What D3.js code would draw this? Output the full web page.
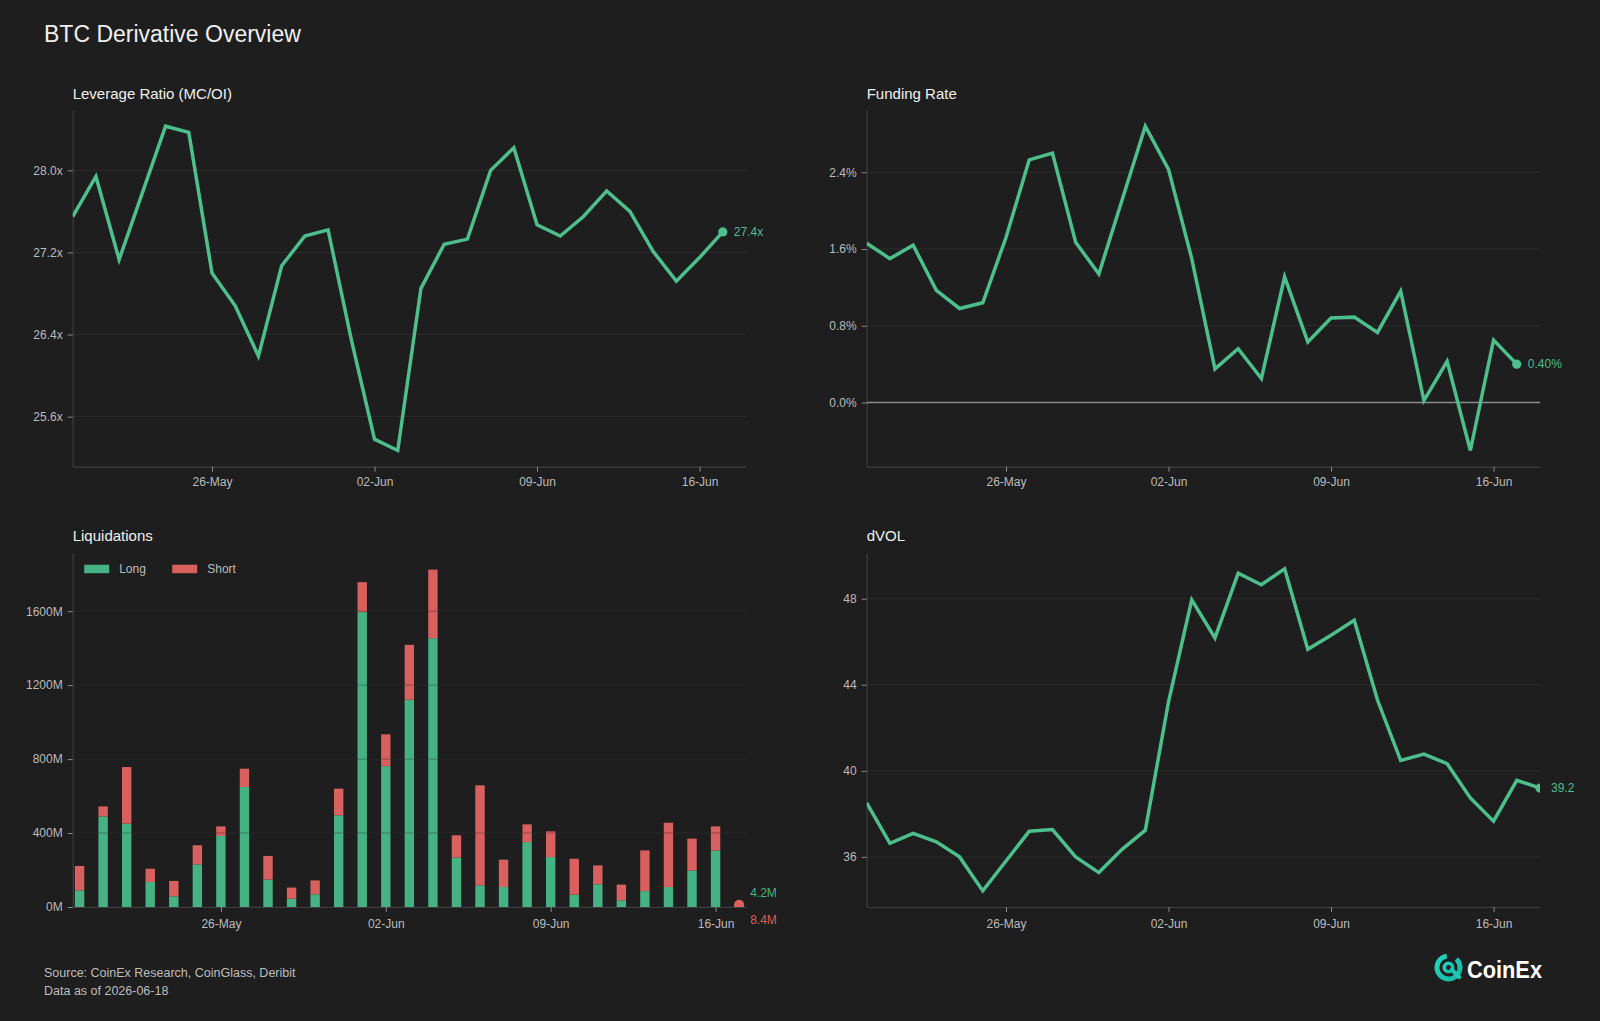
<!DOCTYPE html>
<html>
<head>
<meta charset="utf-8">
<script src="https://cdn.jsdelivr.net/npm/d3@7"></script>
<style>
  html, body { margin: 0; padding: 0; background: #1e1e1e; }
  svg { display: block; font-family: "Liberation Sans", Arial, sans-serif; }
</style>
</head>
<body>
<div id="chart"></div>
<script>
// Daily dates (dVOL has one more point than the rest)
const dates = ["2026-05-20","2026-05-21","2026-05-22","2026-05-23","2026-05-24","2026-05-25","2026-05-26",
  "2026-05-27","2026-05-28","2026-05-29","2026-05-30","2026-05-31","2026-06-01","2026-06-02","2026-06-03",
  "2026-06-04","2026-06-05","2026-06-06","2026-06-07","2026-06-08","2026-06-09","2026-06-10","2026-06-11",
  "2026-06-12","2026-06-13","2026-06-14","2026-06-15","2026-06-16","2026-06-17","2026-06-18"];

const dateTicks = ["2026-05-26","2026-06-02","2026-06-09","2026-06-16"];

// Leverage ratio (x)
const leverage = [27.55, 27.94, 27.13, 27.78, 28.43, 28.37, 27.00, 26.68, 26.19, 27.07, 27.36, 27.42, 26.35, 25.38,
  25.27, 26.85, 27.28, 27.33, 28.00, 28.22, 27.47, 27.36, 27.55, 27.80, 27.60, 27.21, 26.92, 27.15, 27.40];
const leverageTicks = [25.6, 26.4, 27.2, 28.0];

// Funding rate (%)
const funding = [1.66, 1.50, 1.64, 1.17, 0.98, 1.04, 1.72, 2.53, 2.60, 1.67, 1.34, 2.11, 2.88, 2.43,
  1.50, 0.35, 0.56, 0.25, 1.31, 0.63, 0.88, 0.89, 0.73, 1.16, 0.02, 0.43, -0.50, 0.65, 0.40];
const fundingTicks = [0, 0.8, 1.6, 2.4];

// Liquidations (M USD)
const longLiq = [90, 490, 451, 135, 58, 231, 384, 649, 148, 45, 69, 496, 1595, 762, 1121, 1454, 267, 117,
  108, 351, 270, 67, 123, 36, 86, 108, 198, 306, 4.2];
const shortLiq = [132, 54, 306, 72, 83, 103, 52, 99, 128, 60, 75, 144, 162, 172, 297, 371, 121, 541,
  148, 96, 139, 194, 102, 85, 220, 348, 172, 130, 8.4];
const liqTicks = [0, 400, 800, 1200, 1600];

// dVOL
const dvol = [38.51, 36.63, 37.09, 36.70, 36.00, 34.42, 35.81, 37.19, 37.27, 36.00, 35.27, 36.35, 37.24, 43.21,
  47.95, 46.18, 49.19, 48.65, 49.39, 45.65, 46.30, 47.00, 43.29, 40.48, 40.78, 40.33, 38.74, 37.66, 39.56, 39.20];
const dvolTicks = [36, 40, 44, 48];

// colours
const BG = "#1e1e1e";
const GREEN = "#4dbf8d";
const BAR_GREEN = "#46b283";
const RED = "#d8605e";
const GRID = "#2c2c2c";
const AXIS = "#3e3e3e";
const TICK_TEXT = "#bcbcbc";
const TEXT = "#f0f0f0";

const parse = d3.timeParse("%Y-%m-%d");
const fmtDate = d3.timeFormat("%d-%b");

const svg = d3.select("#chart").append("svg")
  .attr("width", 1600)
  .attr("height", 1021);

svg.append("rect").attr("width", 1600).attr("height", 1021).attr("fill", BG);

svg.append("text")
  .attr("x", 44).attr("y", 41.5)
  .attr("fill", TEXT)
  .attr("font-size", 23)
  .text("BTC Derivative Overview");

// panel boxes
const LEFT = { x0: 72.7, x1: 746 };
const RIGHT = { x0: 866.7, x1: 1540 };
const TOP = { y0: 110, y1: 466.7 };
const BOTTOM = { y0: 552.7, y1: 907 };

function styleAxis(g) {
  g.select(".domain").attr("stroke", AXIS).attr("stroke-width", 1.2);
  g.selectAll(".tick line").attr("stroke", "#8a8a8a");
  g.selectAll(".tick text").attr("fill", TICK_TEXT).attr("font-size", 12)
    .attr("font-family", "'Liberation Sans', Arial, sans-serif");
}

function drawFrame(box, title, x, y, yTicks, yFmt, xPad) {
  const g = svg.append("g");

  g.append("text")
    .attr("x", box.x0).attr("y", box.y0 - 11.5)
    .attr("fill", TEXT)
    .attr("font-size", 15)
    .text(title);

  // gridlines
  g.append("g").selectAll("line")
    .data(yTicks)
    .join("line")
    .attr("x1", box.x0).attr("x2", box.x1)
    .attr("y1", d => y(d)).attr("y2", d => y(d))
    .attr("stroke", GRID).attr("stroke-width", 1);

  g.append("g")
    .attr("transform", `translate(0,${box.y1})`)
    .call(d3.axisBottom(x).tickValues(dateTicks.map(parse)).tickFormat(fmtDate).tickSize(5).tickSizeOuter(0).tickPadding(xPad))
    .call(styleAxis);

  g.append("g")
    .attr("transform", `translate(${box.x0},0)`)
    .call(d3.axisLeft(y).tickValues(yTicks).tickFormat(yFmt).tickSize(5).tickSizeOuter(0).tickPadding(5))
    .call(styleAxis);

  return g;
}

function linePanel(box, id, title, values, yTicks, yFmt, endFmt, zeroLine, xPad) {
  const pts = values.map((v, i) => ({ date: parse(dates[i]), value: v }));

  const x = d3.scaleTime()
    .domain([parse(dates[0]), parse(dates[dates.length - 1])])
    .range([box.x0, box.x1]);

  const [mn, mx] = d3.extent(values);
  const pad = (mx - mn) * 0.05;
  const y = d3.scaleLinear().domain([mn - pad, mx + pad]).range([box.y1, box.y0]);

  const g = drawFrame(box, title, x, y, yTicks, yFmt, xPad);

  if (zeroLine) {
    g.append("line")
      .attr("x1", box.x0).attr("x2", box.x1)
      .attr("y1", y(0)).attr("y2", y(0))
      .attr("stroke", "#8c8c8c").attr("stroke-width", 1.4);
  }

  svg.append("clipPath").attr("id", id)
    .append("rect")
    .attr("x", box.x0).attr("y", box.y0 - 10)
    .attr("width", box.x1 - box.x0).attr("height", box.y1 - box.y0 + 10);

  const plot = g.append("g").attr("clip-path", `url(#${id})`);

  plot.append("path")
    .datum(pts)
    .attr("fill", "none")
    .attr("stroke", GREEN)
    .attr("stroke-width", 3.5)
    .attr("stroke-linejoin", "miter")
    .attr("d", d3.line().x(d => x(d.date)).y(d => y(d.value)));

  const last = pts[pts.length - 1];
  plot.append("circle")
    .attr("cx", x(last.date)).attr("cy", y(last.value))
    .attr("r", 4.6).attr("fill", GREEN);

  g.append("text")
    .attr("x", x(last.date) + 11).attr("y", y(last.value))
    .attr("dy", "0.35em")
    .attr("fill", GREEN)
    .attr("font-size", 12)
    .text(endFmt(last.value));
}

linePanel({ ...LEFT, ...TOP }, "clip-lev", "Leverage Ratio (MC/OI)", leverage, leverageTicks,
  d => d.toFixed(1) + "x", v => v.toFixed(1) + "x", false, 6);

linePanel({ ...RIGHT, ...TOP }, "clip-fund", "Funding Rate", funding, fundingTicks,
  d => d.toFixed(1) + "%", v => v.toFixed(2) + "%", true, 6);

linePanel({ ...RIGHT, ...BOTTOM }, "clip-dvol", "dVOL", dvol, dvolTicks,
  d => d3.format("d")(d), v => v.toFixed(1), false, 7);

// Liquidations: stacked bars
(function () {
  const box = { ...LEFT, ...BOTTOM };
  const rows = longLiq.map((l, i) => ({ date: parse(dates[i]), long: l, short: shortLiq[i] }));

  const x = d3.scaleTime()
    .domain([d3.timeHour.offset(rows[0].date, -7), d3.timeHour.offset(rows[rows.length - 1].date, 7)])
    .range([box.x0, box.x1]);

  const maxTotal = d3.max(rows, d => d.long + d.short);
  const y = d3.scaleLinear().domain([0, maxTotal * 1.05]).range([box.y1, box.y0]);

  const g = drawFrame(box, "Liquidations", x, y, liqTicks, d => d + "M", 7);

  const stack = d3.stack().keys(["long", "short"])(rows);
  const colors = { long: BAR_GREEN, short: RED };
  const bw = 9.4;

  const bars = g.append("g");
  stack.forEach(layer => {
    bars.append("g")
      .attr("fill", colors[layer.key])
      .selectAll("rect")
      .data(layer.slice(0, layer.length - 1))
      .join("rect")
      .attr("x", d => x(d.data.date) - bw / 2)
      .attr("width", bw)
      .attr("y", d => y(d[1]))
      .attr("height", d => y(d[0]) - y(d[1]));
  });

  // gridlines show faintly over the bars
  g.append("g").selectAll("line")
    .data(liqTicks.slice(1))
    .join("line")
    .attr("x1", box.x0).attr("x2", box.x1)
    .attr("y1", d => y(d)).attr("y2", d => y(d))
    .attr("stroke", "#1e1e1e").attr("stroke-opacity", 0.35).attr("stroke-width", 1);

  // last day markers
  svg.append("clipPath").attr("id", "clip-liq")
    .append("rect")
    .attr("x", box.x0).attr("y", box.y0)
    .attr("width", box.x1 - box.x0).attr("height", box.y1 - box.y0);

  const last = rows[rows.length - 1];
  const mk = g.append("g").attr("clip-path", "url(#clip-liq)");
  mk.append("circle").attr("cx", x(last.date)).attr("cy", y(last.long)).attr("r", 5).attr("fill", BAR_GREEN);
  mk.append("circle").attr("cx", x(last.date)).attr("cy", y(last.long + last.short)).attr("r", 5).attr("fill", RED);

  g.append("text")
    .attr("x", x(last.date) + 11).attr("y", y(0) - 14)
    .attr("dy", "0.35em").attr("fill", BAR_GREEN).attr("font-size", 12)
    .text(last.long.toFixed(1) + "M");
  g.append("text")
    .attr("x", x(last.date) + 11).attr("y", y(0) + 12.5)
    .attr("dy", "0.35em").attr("fill", RED).attr("font-size", 12)
    .text(last.short.toFixed(1) + "M");

  // legend
  const legend = g.append("g").attr("transform", `translate(${box.x0 + 11.5},${box.y0 + 12})`);
  [["Long", BAR_GREEN, 0], ["Short", RED, 88]].forEach(([label, c, dx]) => {
    legend.append("rect").attr("x", dx).attr("y", 0).attr("width", 25).attr("height", 8.5).attr("fill", c);
    legend.append("text").attr("x", dx + 35).attr("y", 4.3).attr("dy", "0.35em")
      .attr("fill", TICK_TEXT).attr("font-size", 12).text(label);
  });
})();

// footer
svg.append("text").attr("x", 44).attr("y", 976.5).attr("fill", "#bdbdbd").attr("font-size", 12.5)
  .text("Source: CoinEx Research, CoinGlass, Deribit");
svg.append("text").attr("x", 44).attr("y", 994.5).attr("fill", "#bdbdbd").attr("font-size", 12.5)
  .text("Data as of 2026-06-18");

// CoinEx logo
const defs = svg.append("defs");
const grad = defs.append("linearGradient").attr("id", "logo-grad")
  .attr("x1", "0%").attr("y1", "0%").attr("x2", "100%").attr("y2", "100%");
grad.append("stop").attr("offset", "0%").attr("stop-color", "#22d6c6");
grad.append("stop").attr("offset", "100%").attr("stop-color", "#11b89f");

const logo = svg.append("g").attr("transform", "translate(1448.5,967.5)");
const arc = d3.arc();
logo.append("path")
  .attr("d", arc({ innerRadius: 9, outerRadius: 14, startAngle: 0.75, endAngle: 2 * Math.PI - 0.15 }))
  .attr("fill", "url(#logo-grad)");
logo.append("circle").attr("r", 4.2).attr("fill", "none").attr("stroke", "url(#logo-grad)").attr("stroke-width", 3.6);
logo.append("path")
  .attr("d", "M3.5,2.5 L10.5,9.5")
  .attr("stroke", "#1cc9b5").attr("stroke-width", 4.2).attr("stroke-linecap", "round");

svg.append("text")
  .attr("x", 1467).attr("y", 978.3)
  .attr("fill", "#ffffff")
  .attr("font-size", 24)
  .attr("font-weight", 600)
  .attr("textLength", 75)
  .attr("lengthAdjust", "spacingAndGlyphs")
  .text("CoinEx");
</script>
</body>
</html>
